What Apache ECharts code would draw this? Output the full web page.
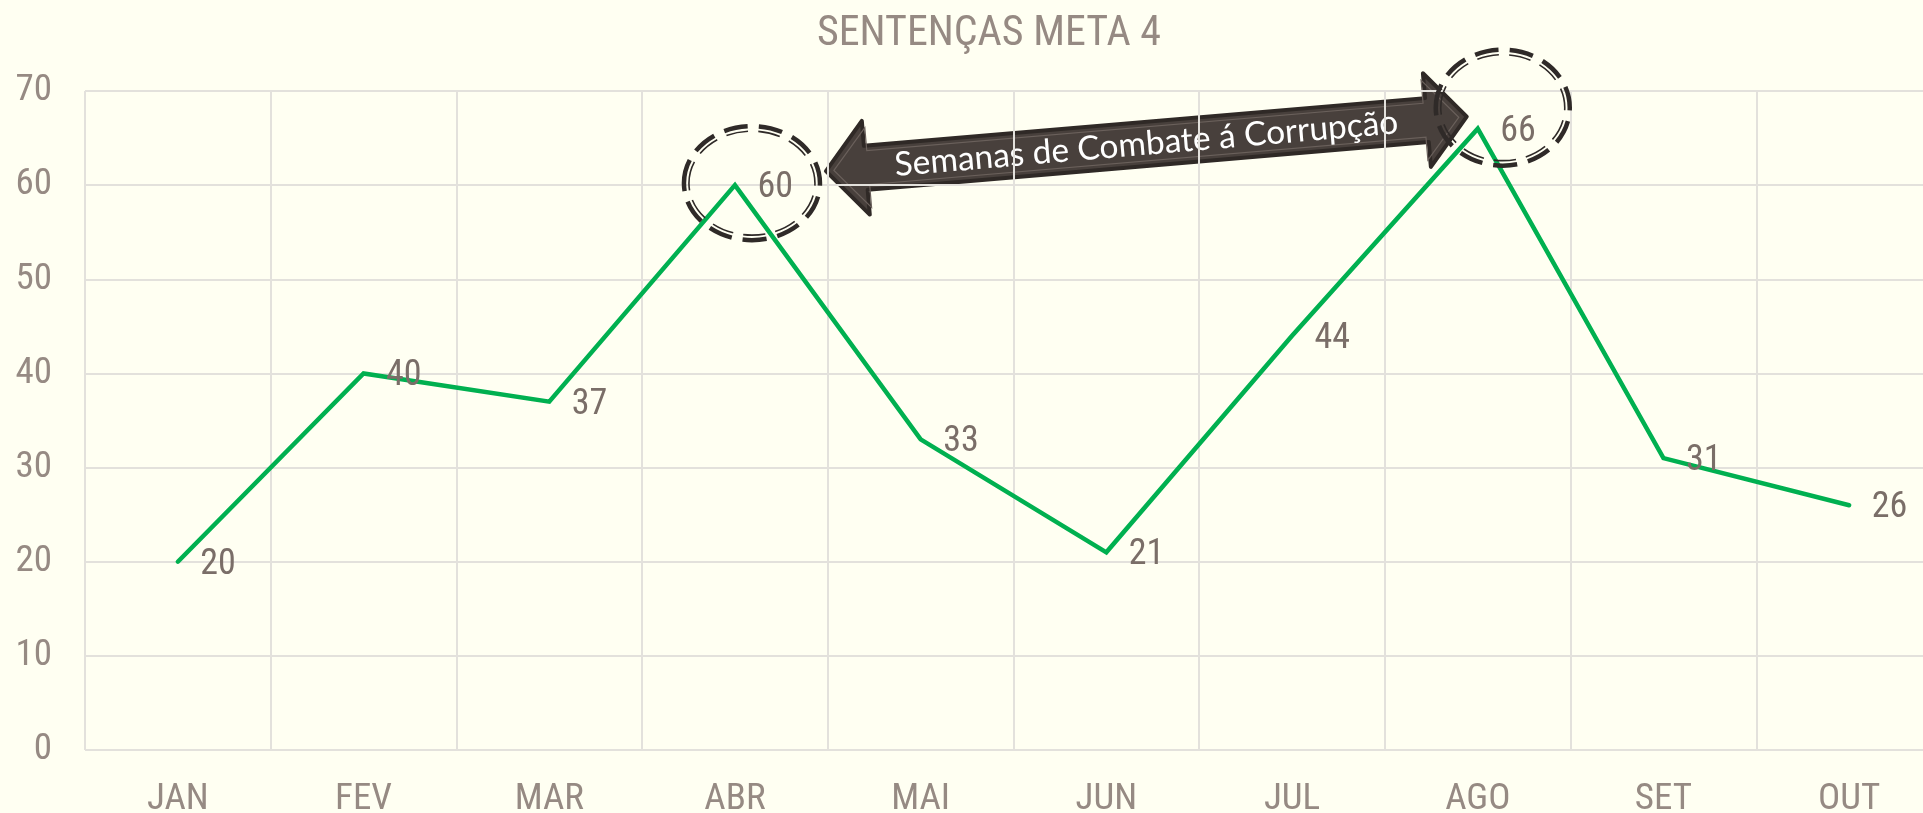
<!DOCTYPE html>
<html><head><meta charset="utf-8">
<script src="https://cdn.jsdelivr.net/npm/echarts@6/dist/echarts.min.js"></script>
<style>html,body{margin:0;padding:0;background:#FFFFF2;}#c{width:1923px;height:813px;}</style>
</head><body><div id="c"></div>
<script>
const categories = ['JAN','FEV','MAR','ABR','MAI','JUN','JUL','AGO','SET','OUT'];
const values = [20,40,37,60,33,21,44,66,31,26];
const yMin = 0, yMax = 70, yInterval = 10;
const titleText = 'SENTENÇAS META 4';
const calloutText = 'Semanas de Combate á Corrupção';
const highlightIdx = [3, 7];

const FONT = '"Roboto Condensed", "DejaVu Sans Condensed", sans-serif';
const chart = echarts.init(document.getElementById('c'), null, {renderer:'canvas'});
chart.setOption({
  backgroundColor:'#FFFFF2',
  animation:false,
  title:{text:titleText, left:984, textAlign:'center', top:8,
    textStyle:{fontFamily:FONT, fontSize:42, fontWeight:'normal', color:'#968A83'}},
  grid:{left:85, right:-19, top:91, bottom:63, containLabel:false, outerBoundsMode:'none'},
  xAxis:{type:'category', data:categories, boundaryGap:true,
    axisLine:{show:false}, axisTick:{show:false},
    axisLabel:{fontFamily:FONT, fontSize:37, color:'#968A83', margin:31},
    splitLine:{show:true, interval:0, lineStyle:{color:'#E3E1DC', width:2}}},
  yAxis:{type:'value', min:yMin, max:yMax, interval:yInterval,
    axisLine:{show:false}, axisTick:{show:false},
    axisLabel:{fontFamily:FONT, fontSize:37, color:'#968A83', margin:33},
    splitLine:{show:true, lineStyle:{color:'#E3E1DC', width:2}}},
  series:[{type:'line', data:values, showSymbol:true, symbol:'circle', symbolSize:1,
    itemStyle:{color:'#00B050'},
    lineStyle:{color:'#00B050', width:4.5, cap:'round', join:'miter'},
    label:{show:true, position:'right', distance:22, offset:[0,3],
      fontFamily:FONT, fontSize:36, color:'#7A6E68'},
    z:5}]
});

// annotations anchored to data points
const p1 = chart.convertToPixel({seriesIndex:0}, [highlightIdx[0], values[highlightIdx[0]]]);
const p2 = chart.convertToPixel({seriesIndex:0}, [highlightIdx[1], values[highlightIdx[1]]]);
const DARK = '#2F2A28';
function dashedEllipse(cx, cy, rx, ry){
  const per = (a,b)=>2*Math.PI*Math.sqrt((a*a+b*b)/2);
  const P = per(rx,ry), Pi = per(rx-5, ry-5);
  const k = Pi/P;
  return [
    {type:'ellipse', shape:{cx:cx, cy:cy, rx:rx, ry:ry},
      style:{fill:'none', stroke:DARK, lineWidth:4.5, lineDash:[24,11]}, z:10},
    {type:'ellipse', shape:{cx:cx, cy:cy, rx:rx-5, ry:ry-5},
      style:{fill:'none', stroke:DARK, lineWidth:1.6, lineDash:[24*k,11*k]}, z:10}
  ];
}
const A = [p1[0]+91, p1[1]-14];
const B = [p2[0]-11, p2[1]-12];
const dx = B[0]-A[0], dy = B[1]-A[1];
const L = Math.sqrt(dx*dx+dy*dy);
const ux = dx/L, uy = dy/L, nx = -uy, ny = ux;
function arrowPts(h, H, s, inset){
  const loc = [[inset,0],[h+inset*0.3,-H],[h+inset*0.3,-s],[L-h-inset*0.3,-s],[L-h-inset*0.3,-H],[L-inset,0],
               [L-h-inset*0.3,H],[L-h-inset*0.3,s],[h+inset*0.3,s],[h+inset*0.3,H]];
  return loc.map(([a,b])=>[A[0]+a*ux+b*nx, A[1]+a*uy+b*ny]);
}
const ang = Math.atan2(-dy, dx);
const mid = [(A[0]+B[0])/2, (A[1]+B[1])/2];
const graphics = [
  {type:'polygon', shape:{points:arrowPts(40,47,22,0)},
    style:{fill:'#48403C', stroke:'#2F2926', lineWidth:4, lineJoin:'round'}, z:-1},
  {type:'polygon', shape:{points:arrowPts(40,40,17,8)},
    style:{fill:'none', stroke:'#6A605B', lineWidth:1.2}, z:-1},
  {type:'text', x:mid[0], y:mid[1], rotation:ang,
    style:{text:calloutText, fill:'#FFFFFF', fontFamily:'Lato, "Open Sans", sans-serif', fontSize:33.5,
      align:'center', verticalAlign:'middle'}, z:-1}
].concat(dashedEllipse(p1[0]+17, p1[1]-2, 68, 57), dashedEllipse(p2[0]+25, p2[1]-21, 67, 58));
chart.setOption({graphic:{elements:graphics}});
</script></body></html>
